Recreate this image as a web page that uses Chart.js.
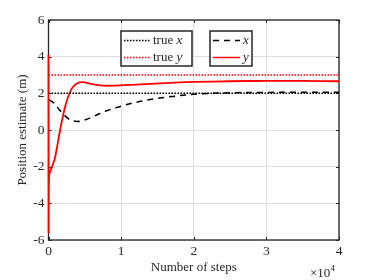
<!DOCTYPE html>
<html><head><meta charset="utf-8">
<script src="https://cdn.jsdelivr.net/npm/chart.js@4/dist/chart.umd.min.js"></script>
<style>html,body{margin:0;padding:0;background:#fff}#wrap{width:374px;height:280px}</style>
</head><body><div id="wrap"><canvas id="c" width="374" height="280"></canvas></div>
<script>
const xSteps = [100,800,1500,2200,3000,4000,5000,6500,8000,10000,12500,15000,17500,20000,22500,25000,30000,35000,40000];
const xEst   = [1.65,1.45,1.1,0.8,0.55,0.47,0.55,0.8,1.05,1.3,1.55,1.72,1.85,1.95,2.0,2.03,2.05,2.06,2.06];
const ySteps = [0,20,80,400,900,1600,2300,3000,3600,4300,5000,6000,7500,9000,12000,16000,20000,25000,30000,35000,40000];
const yEst   = [4.1,-5.55,-2.45,-2.1,-1.5,0,1.3,2.1,2.45,2.6,2.6,2.5,2.42,2.42,2.48,2.56,2.62,2.66,2.68,2.68,2.66];
const trueX = 2, trueY = 3;
const xTicks = [0,10000,20000,30000,40000];
const yTicks = [-6,-4,-2,0,2,4,6];
const FONT = "'Liberation Serif', 'DejaVu Serif', serif";

const pts = (xs, ys) => xs.map((x,i)=>({x, y: ys[i]}));

const deco = {
  id: 'deco',
  beforeDatasetsDraw(chart) {
    const {ctx, chartArea: a, scales: {x, y}} = chart;
    ctx.save();
    ctx.strokeStyle = '#262626'; ctx.lineWidth = 1;
    ctx.beginPath();
    xTicks.forEach(v => { const px = Math.round(x.getPixelForValue(v))+0.5;
      ctx.moveTo(px, a.bottom); ctx.lineTo(px, a.bottom-3);
      ctx.moveTo(px, a.top); ctx.lineTo(px, a.top+3); });
    yTicks.forEach(v => { const py = Math.round(y.getPixelForValue(v))+0.5;
      ctx.moveTo(a.left, py); ctx.lineTo(a.left+3, py);
      ctx.moveTo(a.right, py); ctx.lineTo(a.right-3, py); });
    ctx.stroke();
    ctx.lineWidth = 1.3;
    ctx.strokeRect(a.left, a.top, a.right-a.left, a.bottom-a.top);
    ctx.restore();
  },
  afterDraw(chart) {
    const {ctx, chartArea: a} = chart;
    ctx.save();
    const rows = [[{c:'#000', d:[1.5,1.5], t:'true ', v:'x'}, {c:'#f00', d:[1.5,1.5], t:'true ', v:'y'}],
                  [{c:'#000', d:[6,5], t:'', v:'x'}, {c:'#f00', d:[], t:'', v:'y'}]];
    const boxes = [[121,31,71,35],[210,31,42,35]];
    boxes.forEach((b, bi) => {
      ctx.fillStyle = '#fff'; ctx.fillRect(b[0],b[1],b[2],b[3]);
      ctx.strokeStyle = '#262626'; ctx.lineWidth = 1.5; ctx.setLineDash([]);
      ctx.strokeRect(b[0],b[1],b[2],b[3]);
      rows[bi].forEach((r, ri) => {
        const cy = b[1] + 9.5 + ri*17;
        const x0 = b[0]+3, x1 = bi===0 ? b[0]+29 : b[0]+30;
        ctx.strokeStyle = r.c; ctx.lineWidth = 1.5; ctx.setLineDash(r.d);
        ctx.beginPath(); ctx.moveTo(x0, cy); ctx.lineTo(x1, cy); ctx.stroke();
        ctx.setLineDash([]);
        ctx.fillStyle = '#262626'; ctx.textBaseline = 'middle'; ctx.textAlign = 'left';
        let tx = x1 + 3;
        if (r.t) { ctx.font = '13px ' + FONT; ctx.fillText(r.t, tx, cy); tx += ctx.measureText(r.t).width; }
        ctx.font = 'italic 13px ' + FONT; ctx.fillText(r.v, tx, cy);
      });
    });
    ctx.fillStyle = '#262626';
    ctx.font = '13px ' + FONT; ctx.textAlign = 'center'; ctx.textBaseline = 'middle';
    ctx.fillText('Number of steps', (a.left+a.right)/2, 268);
    ctx.save(); ctx.translate(23, (a.top+a.bottom)/2); ctx.rotate(-Math.PI/2);
    ctx.fillText('Position estimate (m)', 0, 0); ctx.restore();
    ctx.textAlign = 'left'; ctx.textBaseline = 'alphabetic';
    ctx.font = '13px ' + FONT; ctx.fillText('\u00d710', 310, 277);
    ctx.font = '9px ' + FONT; ctx.fillText('4', 330.5, 271);
    ctx.restore();
  }
};

new Chart(document.getElementById('c'), {
  type: 'line',
  data: { datasets: [
    { label: 'true x', data: [{x:0,y:trueX},{x:40000,y:trueX}], borderColor:'#000', borderWidth:1.5, borderDash:[1.5,1.5], pointRadius:0 },
    { label: 'true y', data: [{x:0,y:trueY},{x:40000,y:trueY}], borderColor:'#f00', borderWidth:1.5, borderDash:[1.5,1.5], pointRadius:0 },
    { label: 'x', data: pts(xSteps, xEst), borderColor:'#000', borderWidth:1.5, borderDash:[6,5], pointRadius:0, cubicInterpolationMode:'monotone' },
    { label: 'y', data: pts(ySteps, yEst), borderColor:'#f00', borderWidth:1.8, pointRadius:0, tension:0.3, clip:false }
  ]},
  options: {
    responsive:false, animation:false, devicePixelRatio:1,
    layout:{ padding:{ top:20, right:35, left:0, bottom:0 } },
    plugins:{ legend:{display:false}, tooltip:{enabled:false} },
    scales:{
      x:{ type:'linear', min:0, max:40000,
        afterBuildTicks: s => { s.ticks = xTicks.map(v=>({value:v})); },
        afterFit: s => { s.height = 40; },
        grid:{ color:'#dfdfdf', drawTicks:false, lineWidth:1 }, border:{display:false},
        ticks:{ padding:3, color:'#262626', font:{family:FONT, size:13.5}, maxRotation:0, callback: v => String(v/10000) } },
      y:{ min:-6, max:6,
        afterBuildTicks: s => { s.ticks = yTicks.map(v=>({value:v})); },
        afterFit: s => { s.width = 48.5; },
        grid:{ color:'#dfdfdf', drawTicks:false, lineWidth:1 }, border:{display:false},
        ticks:{ padding:4, color:'#262626', font:{family:FONT, size:13.5}, callback: v => String(v) } }
    }
  },
  plugins:[deco]
});
</script></body></html>
